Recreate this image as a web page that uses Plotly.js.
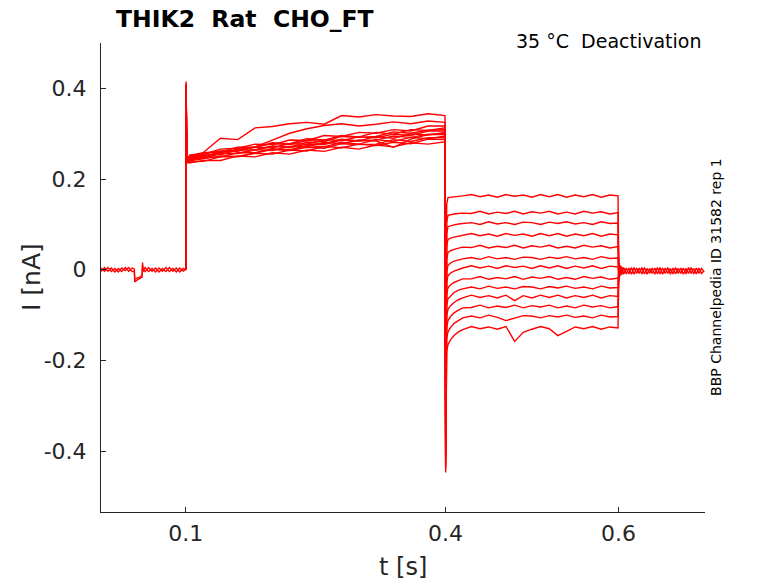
<!DOCTYPE html>
<html>
<head>
<meta charset="utf-8">
<script src="https://cdn.plot.ly/plotly-3.0.1.min.js"></script>
<style>
  html, body { margin: 0; padding: 0; background: #fff; }
  #chart { width: 778px; height: 583px; }
</style>
</head>
<body>
<div id="chart"></div>
<script>
// baseline before the step (two rows make the noise band)
const tPre = [0.002, 0.006, 0.010, 0.014, 0.018, 0.022, 0.026, 0.030, 0.034, 0.038,
  0.0405, 0.041, 0.044, 0.047, 0.0495, 0.050, 0.0505, 0.053, 0.057, 0.061,
  0.065, 0.069, 0.073, 0.077, 0.081, 0.085, 0.089, 0.093, 0.097, 0.0998];
const iPreA = [0.004, -0.003, 0.005, -0.004, 0.003, -0.005, 0.004, -0.002, 0.005, -0.004,
  -0.003, -0.027, -0.022, -0.019, -0.016, 0.016, 0.003, -0.004, 0.005, -0.003,
  0.004, -0.005, 0.003, -0.004, 0.005, -0.003, 0.004, -0.005, 0.003, 0.000];
const iPreB = [-0.004, 0.005, -0.003, 0.004, -0.005, 0.003, -0.004, 0.005, -0.003, 0.004,
  0.002, -0.021, -0.018, -0.016, -0.012, 0.010, -0.004, 0.005, -0.004, 0.003,
  -0.005, 0.004, -0.003, 0.005, -0.004, 0.003, -0.005, 0.004, -0.003, 0.001];

// baseline after 0.6 s
const tPost = [0.6, 0.6005, 0.601, 0.6015, 0.602, 0.603, 0.604,
  0.606, 0.609, 0.612, 0.615, 0.618, 0.621, 0.624, 0.627, 0.630, 0.633, 0.636,
  0.639, 0.642, 0.645, 0.648, 0.651, 0.654, 0.657, 0.660, 0.663, 0.666, 0.669,
  0.672, 0.675, 0.678, 0.681, 0.684, 0.687, 0.690, 0.693, 0.696, 0.699];
const iPostA = [0.020, -0.025, 0.015, -0.015, 0.010, -0.012, 0.006, -0.010, 0.004, -0.009,
  0.005, -0.010, 0.004, -0.008, 0.005, -0.009, 0.003, -0.008, 0.004, -0.010,
  0.005, -0.009, 0.004, -0.008, 0.005, -0.010, 0.004, -0.009, 0.003, -0.008,
  0.004, -0.009, 0.005, -0.008, 0.003, -0.009, 0.004, -0.008, -0.002];
const iPostB = [-0.030, 0.015, -0.020, 0.010, -0.012, 0.008, -0.010, 0.005, -0.009, 0.004,
  -0.010, 0.005, -0.008, 0.004, -0.009, 0.005, -0.010, 0.003, -0.008, 0.004,
  -0.009, 0.005, -0.010, 0.004, -0.008, 0.003, -0.009, 0.005, -0.008, 0.004,
  -0.010, 0.003, -0.008, 0.005, -0.009, 0.004, -0.008, 0.003, -0.004];

// activation step 0.1 - 0.4 s, one row per sweep
const holdT = [0.0999, 0.1004, 0.1008, 0.1015, 0.1025, 0.105, 0.12, 0.14, 0.16, 0.18,
  0.20, 0.22, 0.24, 0.26, 0.28, 0.30, 0.32, 0.34, 0.36, 0.38, 0.3995];
const holdI = [
  [0, .415, .31, .248, .236, .236, .241, .241, .251, .249, .258, .255, .264, .261, .270, .266, .275, .271, .280, .277, .282],
  [0, .400, .30, .246, .238, .238, .239, .249, .249, .257, .255, .264, .262, .272, .269, .277, .274, .281, .278, .288, .287],
  [0, .395, .305, .250, .237, .240, .245, .251, .250, .258, .265, .263, .270, .268, .278, .276, .277, .287, .283, .291, .291],
  [0, .410, .31, .252, .240, .245, .258, .290, .287, .313, .316, .322, .325, .321, .340, .337, .342, .339, .338, .344, .340],
  [0, .390, .30, .249, .239, .242, .248, .249, .258, .258, .267, .264, .274, .271, .281, .277, .287, .283, .292, .289, .295],
  [0, .405, .31, .251, .240, .244, .246, .256, .257, .265, .263, .272, .271, .281, .278, .286, .284, .270, .288, .298, .298],
  [0, .400, .305, .250, .241, .245, .250, .257, .256, .264, .272, .269, .277, .276, .286, .284, .286, .295, .292, .299, .300],
  [0, .385, .30, .250, .242, .245, .250, .258, .266, .271, .286, .301, .311, .318, .322, .317, .321, .326, .322, .328, .325],
  [0, .410, .31, .252, .243, .247, .253, .254, .264, .264, .273, .271, .281, .278, .288, .284, .294, .290, .300, .297, .303],
  [0, .395, .30, .251, .242, .248, .250, .260, .262, .270, .269, .278, .277, .287, .285, .293, .291, .299, .296, .306, .306],
  [0, .400, .305, .253, .244, .250, .255, .262, .262, .271, .278, .276, .285, .283, .294, .292, .294, .304, .301, .308, .309],
  [0, .390, .30, .254, .245, .252, .258, .260, .270, .270, .280, .278, .289, .286, .296, .293, .303, .299, .309, .307, .313],
  [0, .405, .31, .255, .246, .253, .255, .266, .268, .277, .276, .286, .285, .296, .294, .303, .301, .309, .306, .317, .317]
];

// deactivation step 0.4 - 0.6 s
const tailT = [0.4003, 0.4008, 0.4015, 0.403, 0.406, 0.41, 0.415, 0.42,
  0.43, 0.44, 0.45, 0.46, 0.47, 0.48, 0.49, 0.50, 0.51, 0.52, 0.53, 0.54,
  0.55, 0.56, 0.57, 0.58, 0.59, 0.5995, 0.6003];
const tailI = [
  [-.20, .099, .144, .159, .160, .161, .162, .163, .166, .161, .165, .160, .166, .162, .165, .160, .166, .161, .166, .160, .165, .161, .166, .160, .165, .163, .012],
  [-.25, .060, .105, .120, .122, .123, .124, .125, .124, .129, .123, .127, .124, .129, .123, .128, .125, .129, .123, .127, .123, .129, .125, .128, .123, .126, -.015],
  [-.30, .035, .080, .095, .097, .099, .101, .102, .104, .100, .106, .101, .104, .100, .105, .104, .100, .105, .102, .106, .101, .104, .100, .106, .102, .103, .010],
  [-.32, .017, .052, .067, .070, .072, .074, .076, .080, .075, .079, .074, .080, .076, .079, .074, .080, .075, .080, .074, .079, .075, .080, .074, .079, .077, -.020],
  [-.35, -.022, .023, .038, .042, .045, .048, .050, .049, .054, .048, .052, .049, .054, .048, .053, .050, .054, .048, .052, .048, .054, .050, .053, .048, .051, .014],
  [-.37, -.050, -.005, .010, .015, .019, .022, .024, .027, .023, .029, .024, .027, .023, .028, .027, .023, .028, .025, .029, .024, .027, .023, .029, .025, .026, -.012],
  [-.39, -.073, -.028, -.013, -.007, -.003, .001, .004, .009, .004, .008, .003, .009, .005, .008, .003, .009, .004, .009, .003, .008, .004, .009, .003, .008, .006, .008],
  [-.40, -.100, -.055, -.040, -.033, -.028, -.024, -.020, -.020, -.015, -.021, -.017, -.020, -.015, -.021, -.016, -.019, -.015, -.021, -.017, -.021, -.015, -.019, -.016, -.021, -.018, -.018],
  [-.41, -.124, -.079, -.064, -.057, -.050, -.045, -.042, -.038, -.042, -.036, -.041, -.038, -.042, -.037, -.038, -.042, -.037, -.040, -.036, -.041, -.038, -.042, -.036, -.040, -.039, .006],
  [-.42, -.147, -.102, -.087, -.079, -.072, -.066, -.062, -.056, -.061, -.057, -.062, -.056, -.068, -.057, -.062, -.056, -.061, -.056, -.062, -.057, -.061, -.056, -.062, -.057, -.059, -.010],
  [-.43, -.172, -.127, -.112, -.103, -.095, -.089, -.084, -.083, -.078, -.084, -.080, -.083, -.078, -.084, -.079, -.082, -.078, -.084, -.080, -.084, -.078, -.082, -.079, -.084, -.081, .016],
  [-.44, -.197, -.152, -.137, -.127, -.118, -.111, -.106, -.102, -.106, -.100, -.105, -.112, -.106, -.101, -.102, -.106, -.101, -.104, -.100, -.105, -.102, -.106, -.100, -.104, -.103, -.022],
  [-.447, -.225, -.180, -.165, -.154, -.145, -.137, -.132, -.125, -.130, -.126, -.131, -.125, -.158, -.138, -.131, -.125, -.130, -.145, -.136, -.126, -.130, -.125, -.131, -.126, -.128, .004]
];

const xTicks = [0.1, 0.4, 0.6];
const xTickText = ['0.1', '0.4', '0.6'];
const yTicks = [-0.4, -0.2, 0, 0.2, 0.4];
const yTickText = ['-0.4', '-0.2', '0', '0.2', '0.4'];

const red = '#ff0000';
const axisColor = '#262626';
const font = 'DejaVu Sans, Liberation Sans, sans-serif';

function line(x, y) {
  return {
    x: x, y: y, type: 'scatter', mode: 'lines',
    line: { color: red, width: 1.4 },
    hoverinfo: 'skip'
  };
}

let traces = [];
traces.push(line(tPre, iPreA));
traces.push(line(tPre, iPreB));
traces.push(line(tPost, iPostA));
traces.push(line(tPost, iPostB));
holdI.forEach((row, k) => {
  traces.push(line(holdT.concat(tailT), row.concat(tailI[k])));
});

var layout = {
  width: 778,
  height: 583,
  margin: { l: 101, r: 73, t: 43, b: 71 },
  paper_bgcolor: '#ffffff',
  plot_bgcolor: '#ffffff',
  showlegend: false,
  hovermode: false,
  font: { family: font, color: axisColor },
  xaxis: {
    range: [0.002, 0.7],
    tickvals: xTicks,
    ticktext: xTickText,
    ticks: 'inside',
    ticklen: 5,
    tickcolor: axisColor,
    showline: true,
    linecolor: axisColor,
    linewidth: 1,
    showgrid: false,
    zeroline: false,
    ticklabelstandoff: 2,
    tickfont: { family: font, size: 22, color: axisColor }
  },
  yaxis: {
    range: [-0.534, 0.5],
    tickvals: yTicks,
    ticktext: yTickText,
    ticks: 'inside',
    ticklen: 5,
    tickcolor: axisColor,
    showline: true,
    linecolor: axisColor,
    linewidth: 1,
    showgrid: false,
    zeroline: false,
    ticklabelstandoff: 9,
    tickfont: { family: font, size: 22, color: axisColor }
  },
  annotations: [
    {
      text: '<b>THIK2\u00a0 Rat\u00a0 CHO_FT</b>',
      xref: 'paper', yref: 'paper', x: 0.0215, y: 1.051,
      xanchor: 'left', yanchor: 'middle', showarrow: false,
      font: { family: font, size: 23.5, color: '#000000' }
    },
    {
      text: '35 °C\u00a0 Deactivation',
      xref: 'paper', yref: 'paper', x: 0.9967, y: 1.004,
      xanchor: 'right', yanchor: 'middle', showarrow: false,
      font: { family: font, size: 19, color: '#000000' }
    },
    {
      text: 'BBP Channelpedia ID 31582 rep 1',
      xref: 'paper', yref: 'paper', x: 1.018, y: 0.501,
      xanchor: 'center', yanchor: 'middle', showarrow: false, textangle: -90,
      font: { family: font, size: 14, color: '#000000' }
    },
    {
      text: 't [s]',
      xref: 'paper', yref: 'paper', x: 0.5, y: -0.117,
      xanchor: 'center', yanchor: 'middle', showarrow: false,
      font: { family: font, size: 24, color: axisColor }
    },
    {
      text: 'I [nA]',
      xref: 'paper', yref: 'paper', x: -0.116, y: 0.501,
      xanchor: 'center', yanchor: 'middle', showarrow: false, textangle: -90,
      font: { family: font, size: 25, color: axisColor }
    }
  ]
};

Plotly.newPlot('chart', traces, layout, { staticPlot: true, displayModeBar: false });
</script>
</body>
</html>
